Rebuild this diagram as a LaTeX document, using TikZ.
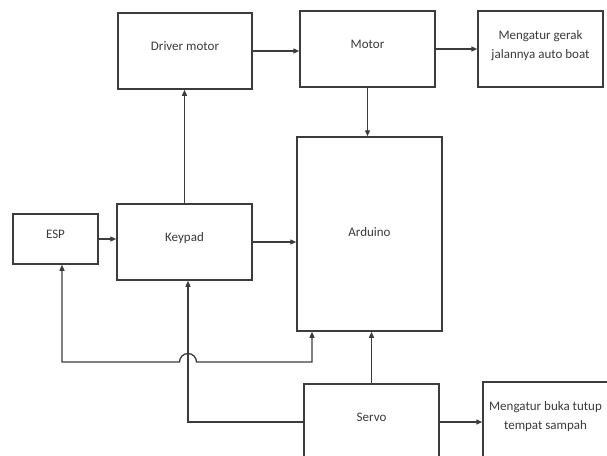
\documentclass[tikz,border=0pt]{standalone}
\usepackage{fontspec}
\setmainfont{Carlito}
\usetikzlibrary{arrows.meta}
\definecolor{garis}{HTML}{3C3C3C}
\definecolor{tulisan}{HTML}{3A3A3A}
\begin{document}
\begin{tikzpicture}[x=1pt,y=-1pt,
    blok/.style={draw=garis, line width=1.5pt, rectangle, align=center,
        text=tulisan, font=\fontsize{13}{19}\selectfont, inner sep=0pt,
        text depth=10pt},
    panah/.style={draw=garis, line width=1.3pt, -{Triangle[length=6pt,width=5pt]}}]
        \useasboundingbox (0,0) rectangle (607,455);
        \clip (0,0) rectangle (607,455);

        % Blok
        \node[blok, minimum width=134, minimum height=76] (dm) at (185,51) {Driver motor};
        \node[blok, minimum width=135, minimum height=76] (motor) at (367.5,49) {Motor};
        \node[blok, minimum width=125, minimum height=76] (gerak) at (540.5,49) {Mengatur gerak\\jalannya auto boat};
        \node[blok, minimum width=145, minimum height=194, text depth=4pt] (arduino) at (369.5,234) {Arduino};
        \node[blok, minimum width=135, minimum height=76] (keypad) at (184.5,242) {Keypad};
        \node[blok, minimum width=85, minimum height=50] (esp) at (55.5,239) {ESP};
        \node[blok, minimum width=135, minimum height=76] (servo) at (371.5,422) {Servo};
        \node[blok, minimum width=125, minimum height=76] (buka) at (545.5,420) {Mengatur buka tutup\\tempat sampah};

        % Jalur atas
        \draw[panah] (dm.east) -- (dm.east -| motor.west);
        \draw[panah] (motor.east) -- (motor.east -| gerak.west);
        \draw[panah] (motor.south) -- (motor.south |- arduino.north);
        \draw[panah] (keypad.north) -- (keypad.north |- dm.south);

        % Jalur tengah
        \draw[panah] (esp.east) -- (esp.east -| keypad.west);
        \draw[panah] (keypad.east) -- (keypad.east -| arduino.west);

        % ESP <-> Arduino, dengan lompatan
        \coordinate (lompat) at (179.5,362);
        \draw[panah, {Triangle[length=6pt,width=5pt]}-{Triangle[length=6pt,width=5pt]}]
            ([xshift=6.5pt]esp.south) -- ([xshift=6.5pt]esp.south |- lompat) -- (lompat)
            arc[start angle=180, end angle=0, radius=8.5pt] -- ++(115.5,0)
            -- ([xshift=-57.5pt]arduino.south);

        % Jalur servo
        \draw[panah] (servo.west) -| ([xshift=3.5pt]keypad.south);
        \draw[panah] (servo.north) -- (servo.north |- arduino.south);
        \draw[panah] (servo.east) -- (servo.east -| buka.west);
    \end{tikzpicture}
\end{document}
